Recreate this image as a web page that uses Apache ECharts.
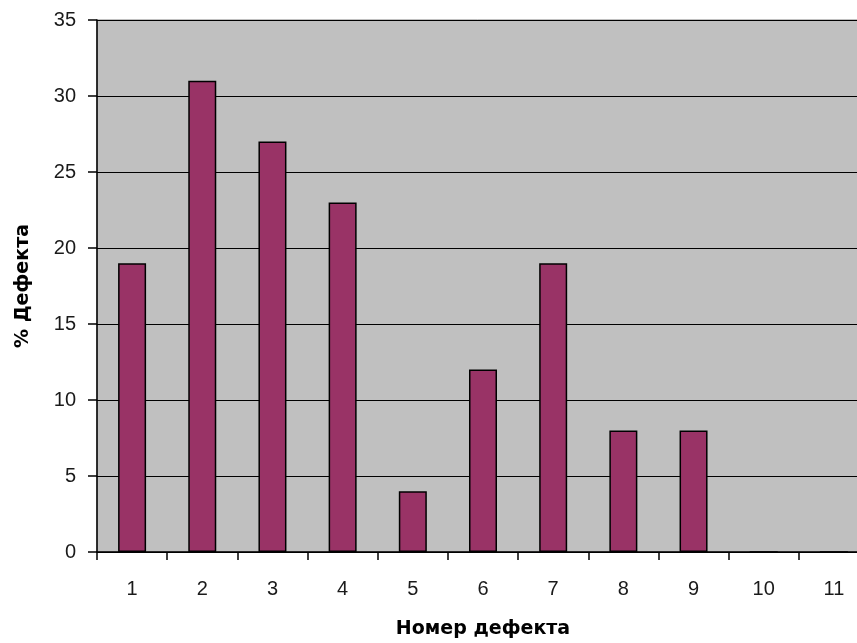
<!DOCTYPE html>
<html>
<head>
<meta charset="utf-8">
<script src="https://cdn.jsdelivr.net/npm/echarts@6/dist/echarts.min.js"></script>
<style>
  html, body { margin: 0; padding: 0; background: #ffffff; }
  #chart { width: 857px; height: 643px; }
</style>
</head>
<body>
<div id="chart"></div>
<script>
// Defect numbers and their share (%) of all defects
const defectNumbers = ['1', '2', '3', '4', '5', '6', '7', '8', '9', '10', '11'];
const defectPercent = [19, 31, 27, 23, 4, 12, 19, 8, 8, 0, 0];
const yTicks = { min: 0, max: 35, step: 5 };

const labelFont = '"Liberation Sans", Arial, sans-serif';
const titleFont = '"DejaVu Sans", "Liberation Sans", Arial, sans-serif';

const chart = echarts.init(document.getElementById('chart'), null, { renderer: 'canvas' });

chart.setOption({
  animation: false,
  backgroundColor: '#ffffff',
  grid: {
    left: 97, top: 20, right: -12, bottom: 91,
    containLabel: false,
    outerBoundsMode: 'none',
    show: true,
    backgroundColor: '#C0C0C0',
    borderColor: '#808080',
    borderWidth: 1
  },
  xAxis: {
    type: 'category',
    data: defectNumbers,
    boundaryGap: true,
    name: 'Номер дефекта',
    nameLocation: 'middle',
    nameGap: 68,
    nameTextStyle: { fontFamily: titleFont, fontWeight: 'bold', fontSize: 19, color: '#000' },
    axisLine: { show: true, lineStyle: { color: '#000', width: 1.5 } },
    axisTick: { show: true, interval: 0, length: 8, lineStyle: { color: '#000', width: 1.5 } },
    axisLabel: { interval: 0, margin: 27, fontFamily: labelFont, fontSize: 20, color: '#1a1a1a' },
    splitLine: { show: false }
  },
  yAxis: {
    type: 'value',
    min: yTicks.min,
    max: yTicks.max,
    interval: yTicks.step,
    name: '% Дефекта',
    nameLocation: 'middle',
    nameGap: 64,
    nameRotate: 90,
    nameTextStyle: { fontFamily: titleFont, fontWeight: 'bold', fontSize: 19, color: '#000' },
    axisLine: { show: true, lineStyle: { color: '#000', width: 1.5 } },
    axisTick: { show: true, length: 9, lineStyle: { color: '#000', width: 1.5 } },
    axisLabel: { margin: 21, fontFamily: labelFont, fontSize: 20, color: '#1a1a1a' },
    splitLine: { show: true, lineStyle: { color: '#000', width: 1.2 } }
  },
  series: [{
    type: 'bar',
    data: defectPercent,
    barWidth: 28,
    itemStyle: { color: '#993366', borderColor: '#000', borderWidth: 1.5 }
  }]
});
</script>
</body>
</html>
